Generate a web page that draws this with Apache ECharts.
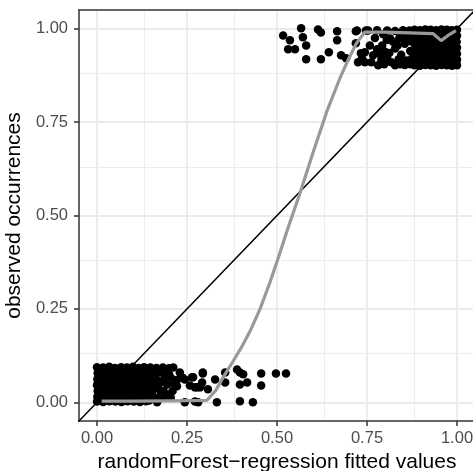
<!DOCTYPE html>
<html>
<head>
<meta charset="utf-8">
<script src="https://cdn.jsdelivr.net/npm/echarts@6/dist/echarts.min.js"></script>
<style>
  html, body { margin: 0; padding: 0; background: #fff; }
  #chart { width: 473px; height: 471px; }
</style>
</head>
<body>
<div id="chart"></div>
<script>
// tick positions on both axes
const tickValues = [0, 0.25, 0.5, 0.75, 1]
const minorValues = [0.125, 0.375, 0.625, 0.875]

// observed = 0 (jittered)
const lowCluster = [
  [0.000,0.094],[0.017,0.093],[0.034,0.095],[0.050,0.092],[0.067,0.094],[0.083,0.093],[0.100,0.095],[0.116,0.092],[0.131,0.094],[0.148,0.093],[0.165,0.092],[0.183,0.093],[0.200,0.091],[0.212,0.093],
  [0.002,0.078],[0.018,0.079],[0.035,0.077],[0.052,0.079],[0.068,0.078],[0.085,0.077],[0.101,0.079],[0.118,0.078],[0.135,0.077],[0.152,0.079],[0.172,0.080],[0.190,0.078],
  [0.001,0.062],[0.016,0.063],[0.033,0.061],[0.049,0.062],[0.066,0.063],[0.082,0.061],[0.099,0.062],[0.115,0.064],[0.132,0.061],[0.148,0.063],[0.166,0.060],[0.186,0.062],[0.205,0.066],[0.222,0.060],[0.244,0.061],
  [0.000,0.046],[0.017,0.047],[0.034,0.045],[0.051,0.046],[0.067,0.047],[0.084,0.045],[0.100,0.047],[0.117,0.046],[0.134,0.044],[0.150,0.047],[0.170,0.045],[0.195,0.048],[0.222,0.043],
  [0.002,0.030],[0.018,0.031],[0.035,0.029],[0.052,0.031],[0.069,0.030],[0.086,0.029],[0.102,0.031],[0.119,0.030],[0.136,0.031],[0.153,0.028],[0.175,0.032],[0.194,0.021],[0.210,0.030],
  [0.001,0.015],[0.017,0.016],[0.034,0.014],[0.050,0.015],[0.067,0.016],[0.084,0.014],[0.101,0.016],[0.118,0.015],[0.135,0.014],[0.152,0.016],[0.168,0.012],[0.186,0.015],[0.205,0.012],
  [0.000,0.002],[0.017,0.001],[0.034,0.003],[0.051,0.002],[0.068,0.001],[0.085,0.003],[0.102,0.002],[0.119,0.001],[0.136,0.003],[0.167,0.000],[0.244,0.000],[0.272,0.002],
  [0.236,0.067],[0.267,0.067],[0.294,0.077],[0.286,0.040],[0.258,0.045],[0.264,0.067],[0.294,0.080],[0.278,0.040],[0.292,0.053],[0.308,0.035],[0.328,0.061],
  [0.356,0.080],[0.356,0.053],[0.389,0.088],[0.397,0.080],[0.406,0.075],[0.397,0.048],[0.417,0.053],[0.456,0.077],[0.456,0.045],[0.497,0.077],[0.525,0.077],
  [0.281,0.000],[0.333,0.000],[0.397,0.003],[0.433,0.000],[0.272,0.040],
  [0.160,0.070],[0.180,0.055],[0.200,0.075],[0.215,0.050],[0.230,0.080],[0.160,0.038],[0.185,0.030],[0.145,0.005]
]

// observed = 1 (jittered)
const highCluster = [
  [0.517,0.982],[0.536,0.969],[0.531,0.945],[0.550,0.945],[0.567,1.001],[0.572,0.977],[0.581,0.955],[0.581,0.918],[0.614,0.998],[0.622,0.990],
  [0.622,0.918],[0.644,0.937],[0.667,0.993],[0.667,0.969],[0.678,0.929],[0.692,0.921],[0.719,0.993],[0.719,0.961],[0.725,0.910],[0.744,0.910],[0.747,0.995],[0.733,0.934],
  [0.722,0.995],[0.753,0.995],[0.778,0.996],[0.806,0.995],[0.828,0.994],[0.850,0.996],[0.868,0.995],
  [0.758,0.955],[0.744,0.937],[0.736,0.921],[0.767,0.929],[0.792,0.955],[0.781,0.902],[0.806,0.921],[0.814,0.974],[0.828,0.947],[0.828,0.902],
  [0.772,0.975],[0.795,0.985],[0.840,0.975],[0.855,0.960],[0.845,0.930],[0.860,0.915],[0.870,0.940],[0.842,0.905],[0.800,0.938],[0.818,0.910],
  [0.762,0.910],[0.865,0.980],[0.875,0.965],[0.875,0.920],[0.855,0.903],[0.835,0.955],[0.790,0.918],
  [0.778,0.945],[0.812,0.935],[0.838,0.918],[0.858,0.975],[0.822,0.965],[0.798,0.905],[0.870,0.905],[0.848,0.985],[0.786,0.932],[0.805,0.970],
  [0.882,0.997],[0.897,0.996],[0.912,0.998],[0.927,0.997],[0.942,0.996],[0.957,0.998],[0.972,0.997],[0.986,0.996],[1.000,0.997],
  [0.883,0.981],[0.898,0.982],[0.913,0.980],[0.928,0.981],[0.943,0.982],[0.958,0.980],[0.973,0.981],[0.987,0.982],[1.000,0.981],
  [0.882,0.965],[0.897,0.966],[0.912,0.964],[0.927,0.965],[0.942,0.966],[0.957,0.964],[0.972,0.965],[0.986,0.966],[0.999,0.965],
  [0.884,0.949],[0.899,0.948],[0.914,0.950],[0.929,0.949],[0.944,0.948],[0.959,0.950],[0.974,0.949],[0.988,0.948],[1.000,0.949],
  [0.882,0.933],[0.897,0.934],[0.912,0.932],[0.927,0.933],[0.942,0.934],[0.957,0.932],[0.972,0.933],[0.986,0.934],[1.000,0.933],
  [0.883,0.917],[0.898,0.918],[0.913,0.916],[0.928,0.917],[0.943,0.918],[0.958,0.916],[0.973,0.917],[0.987,0.918],[1.000,0.917],
  [0.882,0.902],[0.897,0.901],[0.912,0.903],[0.927,0.902],[0.942,0.901],[0.957,0.903],[0.972,0.902],[0.986,0.901],[1.000,0.902]
]

// smoothed fit (grey curve)
const smoothFit = [
  [0.013,0.003],[0.100,0.003],[0.200,0.004],[0.305,0.005],[0.330,0.032],[0.350,0.066],[0.378,0.110],
  [0.400,0.145],[0.425,0.190],[0.453,0.250],[0.480,0.320],[0.503,0.385],[0.531,0.468],[0.564,0.560],
  [0.600,0.668],[0.639,0.780],[0.675,0.868],[0.697,0.915],[0.720,0.960],[0.744,0.991],[0.800,0.991],
  [0.870,0.989],[0.933,0.987],[0.956,0.968],[0.975,0.982],[0.997,0.995]
]

// perfect-calibration line y = x
const identityLine = [[-0.1,-0.1],[1.1,1.1]]

const font = 'Liberation Sans'
const border = { show: true, onZero: false, lineStyle: { color: '#333333', width: 1.5 } }
const chart = echarts.init(document.getElementById('chart'))

function gridLines(values, width) {
  return values.map(v => ({ xAxis: v, lineStyle: { width: width } }))
    .concat(values.map(v => ({ yAxis: v, lineStyle: { width: width } })))
}

function axisCommon(labelMargin) {
  return {
    type: 'value',
    min: -0.05,
    max: 1.05,
    splitLine: { show: false },
    axisLine: border,
    axisTick: {
      show: true, length: 5, customValues: tickValues,
      lineStyle: { color: '#333333', width: 1.5 }
    },
    axisLabel: {
      customValues: tickValues,
      formatter: v => v.toFixed(2),
      color: '#4D4D4D',
      fontSize: 16.5,
      fontFamily: font,
      margin: labelMargin
    },
    nameLocation: 'middle',
    nameTextStyle: { color: '#000', fontSize: 21, fontFamily: font }
  }
}

const option = {
  animation: false,
  backgroundColor: '#fff',
  grid: {
    left: 79, right: -2, top: 10, bottom: 50,
    outerBoundsMode: 'none'
  },
  xAxis: [
    Object.assign(axisCommon(9), { position: 'bottom', name: 'randomForest\u2212regression fitted values', nameGap: 28 }),
    // top edge of the panel
    { type: 'value', position: 'top', min: -0.05, max: 1.05, axisLine: border,
      axisTick: { show: false }, axisLabel: { show: false }, splitLine: { show: false } }
  ],
  yAxis: Object.assign(axisCommon(11), { position: 'left', name: 'observed occurrences', nameGap: 49 }),
  series: [
    {
      type: 'scatter', data: [], z: 0, silent: true,
      markLine: {
        silent: true, symbol: 'none', animation: false, z: 0,
        label: { show: false },
        lineStyle: { color: '#EBEBEB', type: 'solid' },
        data: gridLines(tickValues, 1.8).concat(gridLines(minorValues, 0.9))
      }
    },
    {
      type: 'line', data: identityLine, showSymbol: false, z: 1, clip: true,
      lineStyle: { color: '#000', width: 1.5 }
    },
    {
      type: 'scatter', data: lowCluster, symbol: 'circle', symbolSize: 8.5, z: 2,
      itemStyle: { color: '#000', opacity: 1 }
    },
    {
      type: 'scatter', data: highCluster, symbol: 'circle', symbolSize: 8.5, z: 2,
      itemStyle: { color: '#000', opacity: 1 }
    },
    {
      type: 'line', data: smoothFit, showSymbol: false, z: 3, smooth: false,
      lineStyle: { color: '#999999', width: 3.2 }
    }
  ]
}
chart.setOption(option)
</script>
</body>
</html>
